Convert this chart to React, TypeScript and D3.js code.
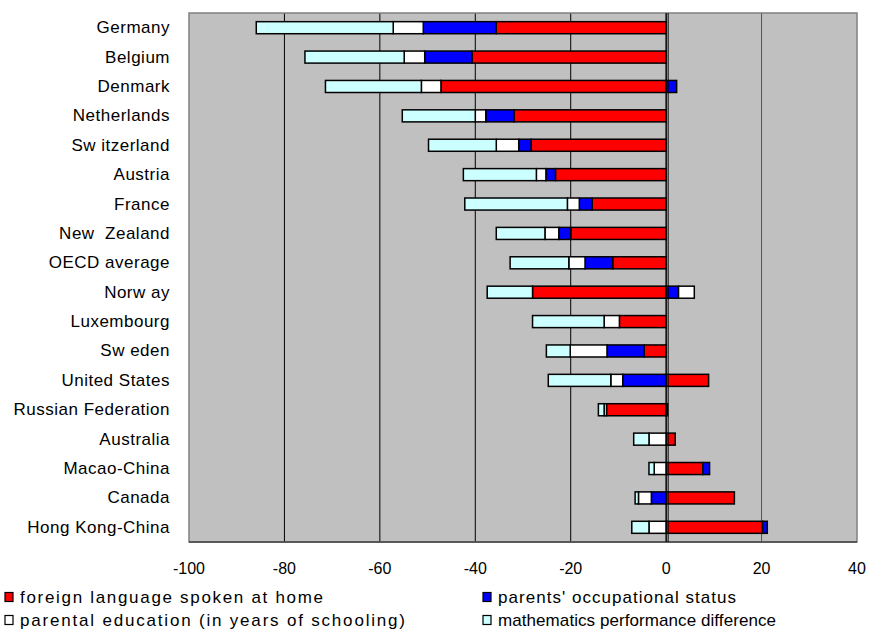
import React from "react";
import * as d3 from "d3";

const categories = [
  "Germany", "Belgium", "Denmark", "Netherlands", "Sw itzerland", "Austria", "France",
  "New  Zealand", "OECD average", "Norw ay", "Luxembourg", "Sw eden", "United States",
  "Russian Federation", "Australia", "Macao-China", "Canada", "Hong Kong-China",
];
const foreignLanguage = [-35.6, -40.7, -47.2, -31.9, -28.3, -23.2, -15.5, -20.0, -11.2, -28.0, -9.8, -4.6, 8.9, -12.5, 1.9, 7.7, 14.3, 20.2];
const occupationalStatus = [-15.3, -9.9, 2.2, -5.9, -2.6, -2.0, -2.7, -2.5, -5.8, 2.6, 0, -7.8, -9.1, 0.3, 0, 1.4, -3.1, 1.0];
const parentalEducation = [-6.3, -4.3, -4.1, -2.2, -4.7, -2.0, -2.5, -2.9, -3.4, 3.3, -3.2, -7.7, -2.5, -0.5, -3.6, -2.5, -2.7, -3.6];
const mathDifference = [-28.7, -20.8, -20.1, -15.3, -14.2, -15.3, -21.5, -10.2, -12.3, -9.5, -15.0, -5.0, -13.1, -1.2, -3.2, -1.1, -0.7, -3.6];
const xTicks = [-100, -80, -60, -40, -20, 0, 20, 40];
const seriesNames = [
  "foreign language spoken at home",
  "parents' occupational status",
  "parental education (in years of schooling)",
  "mathematics performance difference",
];
const seriesColors = ["#FF0000", "#0000FF", "#FFFFFF", "#CCFFFF"];

const W = 869, H = 631;
const plot = { left: 189, right: 857, top: 13, bottom: 542 };
const font = "'Liberation Sans', Arial, sans-serif";
const legendPos = [
  { x: 5, y: 597, len: 303 },
  { x: 483, y: 597, len: 238 },
  { x: 5, y: 620, len: 385 },
  { x: 483, y: 620, len: 278 },
];

export default function App() {
  const keys = ["a", "b", "c", "d"];
  const rows = categories.map((c, i) => ({
    cat: c,
    a: foreignLanguage[i],
    b: occupationalStatus[i],
    c: parentalEducation[i],
    d: mathDifference[i],
  }));
  const stack = d3.stack<any>().keys(keys).offset(d3.stackOffsetDiverging).order(d3.stackOrderNone);
  const series = stack(rows);
  const x = d3.scaleLinear().domain([-100, 40]).range([plot.left, plot.right]);
  const y = d3.scaleBand().domain(categories).range([plot.top, plot.bottom]).paddingInner(0.59).paddingOuter(0.295);

  return (
    <svg width={W} height={H} style={{ display: "block", position: "absolute", left: 0, top: 0 }}>
      <rect x={plot.left} y={plot.top} width={plot.right - plot.left} height={plot.bottom - plot.top} fill="#C0C0C0" />
      {xTicks.slice(1, -1).map((t) => (
        <line key={t} x1={x(t)} x2={x(t)} y1={plot.top} y2={plot.bottom} stroke={t === 20 ? "#555" : "#000"} strokeWidth={1} />
      ))}
      <rect x={plot.left} y={plot.top} width={plot.right - plot.left} height={plot.bottom - plot.top} fill="none" stroke="#808080" strokeWidth={1.5} />
      <line x1={plot.left} x2={plot.right} y1={plot.bottom} y2={plot.bottom} stroke="#444" strokeWidth={1.5} />
      {series.map((s, si) =>
        s.map((d, i) => {
          const x0 = x(Math.min(d[0], d[1]));
          const x1 = x(Math.max(d[0], d[1]));
          if (x1 - x0 < 0.01) return null;
          return (
            <rect key={si + "-" + i} x={x0} y={y(categories[i])} width={x1 - x0} height={y.bandwidth()}
              fill={seriesColors[si]} stroke="#000" strokeWidth={1.5} />
          );
        })
      )}
      <line x1={x(0)} x2={x(0)} y1={plot.top} y2={plot.bottom} stroke="#000" strokeWidth={1} />
      <line x1={x(0) + 2} x2={x(0) + 2} y1={plot.top} y2={plot.bottom} stroke="#000" strokeWidth={1} />
      {categories.map((c) => (
        <text key={c} x={170} y={(y(c) as number) + y.bandwidth() / 2} textAnchor="end" dominantBaseline="central"
          fontFamily={font} fontSize={17} letterSpacing={0.5} fill="#000" style={{ whiteSpace: "pre" }}>{c}</text>
      ))}
      {xTicks.map((t) => (
        <text key={t} x={x(t)} y={568} textAnchor="middle" dominantBaseline="central" fontFamily={font} fontSize={16} fill="#000">{t}</text>
      ))}
      {seriesNames.map((n, i) => {
        const p = legendPos[i];
        return (
          <g key={n}>
            <rect x={p.x} y={p.y - 4.5} width={8} height={9} fill={seriesColors[i]} stroke="#000" strokeWidth={1.2} />
            <text x={p.x + 15} y={p.y} dominantBaseline="central" fontFamily={font} fontSize={17} fill="#000"
              textLength={p.len} lengthAdjust="spacing">{n}</text>
          </g>
        );
      })}
    </svg>
  );
}
